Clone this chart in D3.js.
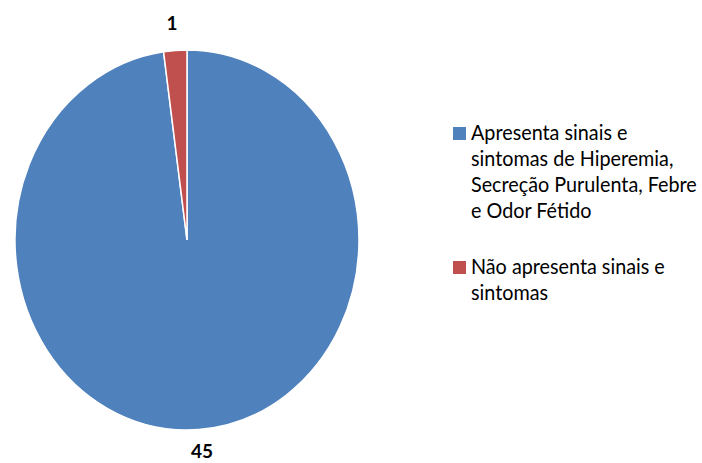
<!DOCTYPE html>
<html>
<head>
<meta charset="utf-8">
<script src="https://cdn.jsdelivr.net/npm/d3@7"></script>
<style>
  html, body { margin: 0; padding: 0; background: #ffffff; }
  svg { display: block; }
</style>
</head>
<body>
<svg id="chart" width="702" height="463"></svg>
<script>
// Categories and counts
const categories = [
  "Apresenta sinais e sintomas de Hiperemia, Secreção Purulenta, Febre e Odor Fétido",
  "Não apresenta sinais e sintomas"
];
const values = [45, 1];
const legendLines = [
  ["Apresenta sinais e", "sintomas de Hiperemia,", "Secreção Purulenta, Febre", "e Odor Fétido"],
  ["Não apresenta sinais e", "sintomas"]
];
const colors = ["#4F81BD", "#C0504D"];

const svg = d3.select("#chart");

// Pie geometry (slightly taller than wide)
const cx = 187, cy = 240, rx = 172, ry = 190;

const data = categories.map((c, i) => ({ name: c, value: values[i], color: colors[i] }));

const pie = d3.pie().sort(null).value(d => d.value).startAngle(0).endAngle(2 * Math.PI);
const arcs = pie(data);
const arc = d3.arc().innerRadius(0).outerRadius(rx);

const pieG = svg.append("g")
  .attr("transform", `translate(${cx},${cy}) scale(1,${ry / rx})`);

pieG.selectAll("path.slice")
  .data(arcs)
  .enter().append("path")
  .attr("class", "slice")
  .attr("d", arc)
  .attr("fill", d => d.data.color)
  .attr("stroke", "#ffffff")
  .attr("stroke-width", 1.5)
  .attr("vector-effect", "non-scaling-stroke");

// Value labels outside the pie
const labelPos = [
  { x: 202, y: 458 },
  { x: 172, y: 30 }
];
svg.selectAll("text.value")
  .data(arcs)
  .enter().append("text")
  .attr("class", "value")
  .attr("x", (d, i) => labelPos[i].x)
  .attr("y", (d, i) => labelPos[i].y)
  .attr("text-anchor", "middle")
  .attr("font-family", "Lato, 'Open Sans', sans-serif")
  .attr("font-weight", "bold")
  .attr("font-size", 19)
  .attr("fill", "#000")
  .text(d => d.data.value);

// Legend
const legend = svg.append("g").attr("transform", "translate(453,0)");
const itemTops = [140, 274];
const lineH = 26;
const textX = 18;

const items = legend.selectAll("g.item")
  .data(data)
  .enter().append("g")
  .attr("class", "item");

items.append("rect")
  .attr("x", 0)
  .attr("y", (d, i) => itemTops[i] - 13)
  .attr("width", 13)
  .attr("height", 13)
  .attr("fill", d => d.color);

const textG = items.append("g")
  .attr("class", "label");

textG.each(function(d, i) {
  const t = d3.select(this).append("text")
    .attr("font-family", "Lato, 'Open Sans', sans-serif")
    .attr("font-size", 21.5)
    .attr("fill", "#000");
  legendLines[i].forEach((ln, j) => {
    t.append("tspan")
      .attr("x", 0)
      .attr("y", itemTops[i] + j * lineH)
      .text(ln);
  });
});

// Horizontal squeeze so the longest line spans the available width
let maxW = 0;
legend.selectAll("tspan").each(function() {
  maxW = Math.max(maxW, this.getComputedTextLength());
});
const sx = 226 / maxW;
legend.selectAll("g.label").attr("transform", `translate(${textX},0) scale(${sx},1)`);
</script>
</body>
</html>
